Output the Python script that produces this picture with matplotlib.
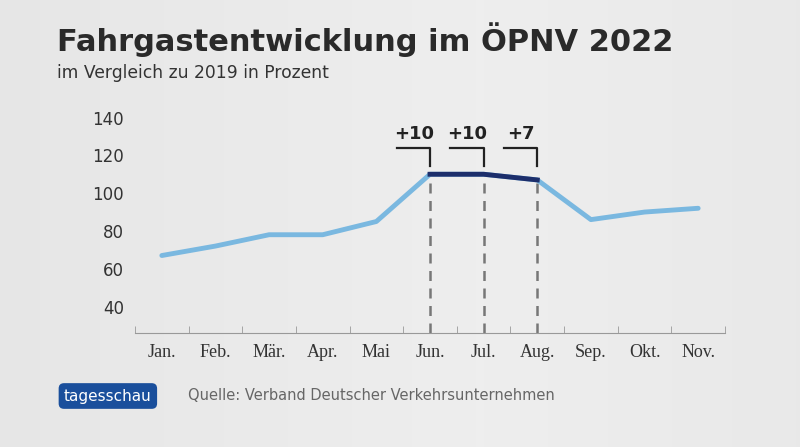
import matplotlib
matplotlib.use("Agg")
import matplotlib.pyplot as plt
import numpy as np

months = ["Jan.", "Feb.", "Mär.", "Apr.", "Mai", "Jun.", "Jul.", "Aug.", "Sep.", "Okt.", "Nov."]
values = [67, 72, 78, 78, 85, 110, 110, 107, 86, 90, 92]
highlight_idx = [5, 6, 7]
highlight_labels = ["+10", "+10", "+7"]
yticks = [40, 60, 80, 100, 120, 140]

W, H = 800, 447
fig = plt.figure(figsize=(W/100, H/100), dpi=100)
bg = fig.add_axes([0, 0, 1, 1])
bg.set_axis_off()
xx = np.linspace(0, 1, 200)
grad = np.outer(np.ones(100), 0.93 - 0.05*np.abs(xx-0.6))
bg.imshow(grad, cmap="gray", vmin=0, vmax=1, aspect="auto", extent=[0, 1, 0, 1])

ax = fig.add_axes([135/W, 1-333/H, 590/W, (333-110)/H])
ax.patch.set_alpha(0)
x = np.arange(len(months))
ax.plot(x, values, color="#7ab8e0", lw=3.5, solid_capstyle="round", zorder=3)
h = highlight_idx
ax.plot(x[h[0]:h[-1]+1], values[h[0]:h[-1]+1], color="#1c2e6b", lw=3.5, zorder=4)
ax.set_xlim(-0.5, len(months)-0.5)
ax.set_ylim(26, 144)
ax.set_yticks(yticks)
ax.set_xticks(x)
ax.set_xticklabels(months, family="Liberation Serif")
ax.set_xticks(np.arange(-0.5, len(months)), minor=True)
for s in ["top", "right", "left"]:
    ax.spines[s].set_visible(False)
ax.spines["bottom"].set_color("#999999")
ax.tick_params(axis="y", length=0, labelsize=12, colors="#333333", pad=8)
ax.tick_params(axis="x", which="major", length=0, labelsize=13, colors="#333333", pad=8)
ax.tick_params(axis="x", which="minor", length=5, color="#999999", direction="in")
for i, lab in zip(highlight_idx, highlight_labels):
    ax.plot([i, i], [26, values[i]], ls=(0, (4, 3)), color="#777777", lw=1.8, zorder=2)
    ax.plot([i-0.62, i, i], [124, 124, 114.5], color="#222222", lw=1.6, clip_on=False)
    ax.text(i-0.3, 126.5, lab, ha="center", va="bottom", fontsize=13, fontweight="bold", color="#222222")

fig.text(57/W, 1-40/H, "Fahrgastentwicklung im ÖPNV 2022", fontsize=22, fontweight="bold", color="#2a2a2a", va="center")
fig.text(57/W, 1-73/H, "im Vergleich zu 2019 in Prozent", fontsize=12.3, color="#333333", va="center")
fig.text(64/W, 1-396/H, "tagesschau", fontsize=11, color="white", va="center",
         bbox=dict(boxstyle="round,pad=0.35", fc="#1a4f9c", ec="none"))
fig.text(188/W, 1-396/H, "Quelle: Verband Deutscher Verkehrsunternehmen", fontsize=10.5, color="#666666", va="center")
fig.savefig("out.png", dpi=100)
